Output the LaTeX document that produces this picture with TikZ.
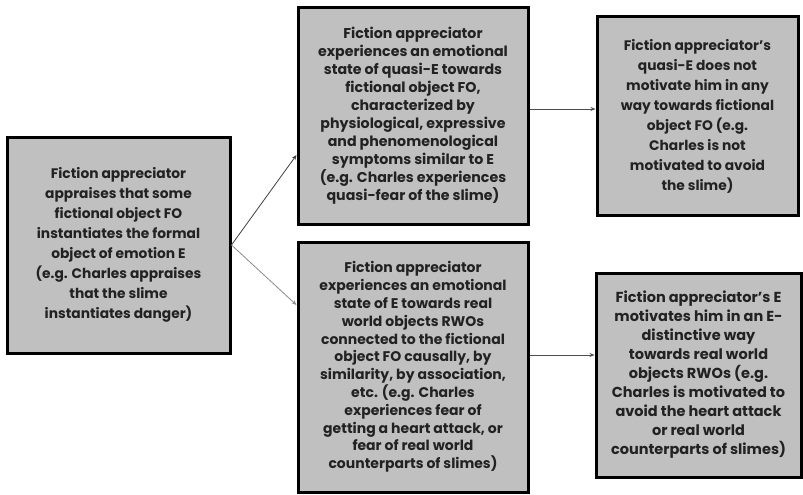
\documentclass[tikz,border=0pt]{standalone}
\usepackage{fontspec}
\setsansfont{Poppins}
\usetikzlibrary{arrows.meta,positioning,shapes}
\definecolor{boxgray}{HTML}{C0C0C0}
\definecolor{ink}{HTML}{222222}
\begin{document}
\begin{tikzpicture}[x=1pt,y=-1pt,
  box/.style={draw=black,line width=3pt,fill=boxgray,align=center,inner sep=0pt,
    text=ink,font=\sffamily\bfseries},
  link/.style={-{Stealth[length=5pt,width=4pt]},line width=.8pt}]
\useasboundingbox (0,0) rectangle (803,495);
\node[box,minimum width=223,minimum height=216,font=\sffamily\bfseries\fontsize{13.8}{20}\selectfont] (appraise) at (118.5,245) {Fiction appreciator\\appraises that some\\fictional object FO\\instantiates the formal\\object of emotion E\\(e.g. Charles appraises\\that the slime\\instantiates danger)};
\node[box,minimum width=230,minimum height=216,font=\sffamily\bfseries\fontsize{14.2}{18}\selectfont] (quasi) at (413,116) {Fiction appreciator\\experiences an emotional\\state of quasi-E towards\\fictional object FO,\\characterized by\\physiological, expressive\\and phenomenological\\symptoms similar to E\\(e.g. Charles experiences\\quasi-fear of the slime)};
\node[box,minimum width=230,minimum height=250,font=\sffamily\bfseries\fontsize{14}{17.8}\selectfont] (real) at (413,367) {Fiction appreciator\\experiences an emotional\\state of E towards real\\world objects RWOs\\connected to the fictional\\object FO causally, by\\similarity, by association,\\etc. (e.g. Charles\\experiences fear of\\getting a heart attack, or\\fear of real world\\counterparts of slimes)};
\node[box,minimum width=201,minimum height=198,font=\sffamily\bfseries\fontsize{13.8}{20}\selectfont] (nomotive) at (697.5,116) {Fiction appreciator's\\quasi-E does not\\motivate him in any\\way towards fictional\\object FO (e.g.\\Charles is not\\motivated to avoid\\the slime)};
\node[box,minimum width=205,minimum height=204,font=\sffamily\bfseries\fontsize{14.5}{19}\selectfont] (motive) at (698.5,375) {Fiction appreciator's E\\motivates him in an E-\\distinctive way\\towards real world\\objects RWOs (e.g.\\Charles is motivated to\\avoid the heart attack\\or real world\\counterparts of slimes)};
\draw[link,black!75] (appraise.east) -- (quasi.west |- 0,155);
\draw[link,black!45] (appraise.east) -- (real.west |- 0,305);
\draw[link,black!70] (quasi.east |- 0,109) -- (nomotive.west |- 0,109);
\draw[link,black!70] (real.east |- 0,355) -- (motive.west |- 0,355);
\end{tikzpicture}
\end{document}
